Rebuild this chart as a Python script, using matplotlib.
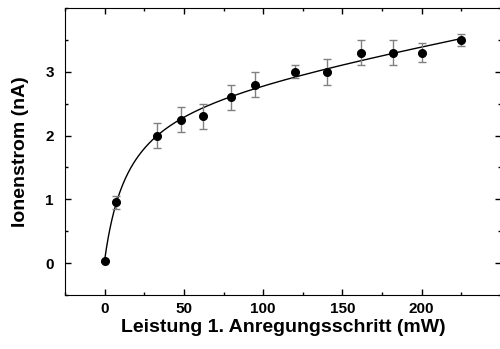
import numpy as np
import matplotlib
matplotlib.use('Agg')
import matplotlib.pyplot as plt
from matplotlib.ticker import MultipleLocator

plt.rcParams['font.family'] = ['Liberation Sans', 'DejaVu Sans']

# Messwerte
leistung = [0, 7, 33, 48, 62, 80, 95, 120, 140, 162, 182, 200, 225]
strom = [0.03, 0.95, 2.0, 2.25, 2.3, 2.6, 2.8, 3.0, 3.0, 3.3, 3.3, 3.3, 3.5]
fehler = [0.0, 0.1, 0.2, 0.2, 0.2, 0.2, 0.2, 0.1, 0.2, 0.2, 0.2, 0.15, 0.1]

x = np.array(leistung, dtype=float)
y = np.array(strom)

# Fit: y = y0 + A*x/(B+x) + C*x  (B per Gittersuche, Rest linear)
best = None
for B in np.linspace(2, 80, 400):
    M = np.column_stack([np.ones_like(x), x / (B + x), x])
    coef, *_ = np.linalg.lstsq(M, y, rcond=None)
    res = np.sum((M @ coef - y) ** 2)
    if best is None or res < best[0]:
        best = (res, B, coef)
_, B, coef = best
xf = np.linspace(0, 225, 400)
yf = coef[0] + coef[1] * xf / (B + xf) + coef[2] * xf

fig = plt.figure(figsize=(5, 3.49), dpi=100)
ax = fig.add_axes([0.13, 0.155, 0.872, 0.822])

ax.plot(xf, yf, color='black', lw=1.0)
ax.errorbar(x, y, yerr=fehler, fmt='none', ecolor='#808080', elinewidth=1.0,
            capsize=3, capthick=1.0)
ax.plot(x, y, 'o', color='black', ms=5.5)

ax.set_xlim(-25, 250)
ax.set_ylim(-0.5, 4)
ax.set_xticks([0, 50, 100, 150, 200])
ax.set_yticks([0, 1, 2, 3])
ax.xaxis.set_minor_locator(MultipleLocator(25))
ax.yaxis.set_minor_locator(MultipleLocator(0.5))
ax.tick_params(which='both', direction='in', top=True, right=True, width=1)
ax.tick_params(which='major', length=4, labelsize=11)
ax.tick_params(axis='x', which='major', pad=5)
ax.tick_params(axis='y', which='major', pad=8)
ax.tick_params(which='minor', length=2)
for lab in ax.get_xticklabels() + ax.get_yticklabels():
    lab.set_fontweight('bold')

ax.set_xlabel('Leistung 1. Anregungsschritt (mW)', fontsize=14,
              fontweight='bold', labelpad=2)
ax.set_ylabel('Ionenstrom (nA)', fontsize=14, fontweight='bold', labelpad=12)

fig.savefig('out.png', dpi=100)
